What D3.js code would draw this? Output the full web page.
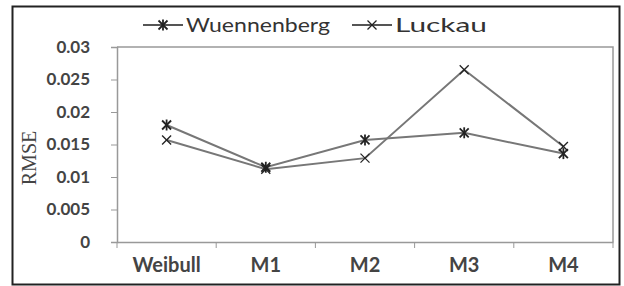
<!DOCTYPE html>
<html><head><meta charset="utf-8">
<script src="https://cdn.jsdelivr.net/npm/d3@7"></script>
<style>body{margin:0;background:#fff}svg{display:block}</style>
</head><body>
<script>
const categories = ["Weibull", "M1", "M2", "M3", "M4"];
const wuennenberg = [0.0180, 0.0115, 0.0157, 0.0168, 0.0136];
const luckau = [0.0157, 0.0112, 0.0129, 0.0265, 0.0147];
const yTicks = [0, 0.005, 0.01, 0.015, 0.02, 0.025, 0.03];
const yTickLabels = ["0", "0.005", "0.01", "0.015", "0.02", "0.025", "0.03"];
const seriesNames = ["Wuennenberg", "Luckau"];

const W = 624, H = 286;
const svg = d3.select("body").append("svg").attr("width", W).attr("height", H);
const font = "Lato, 'Open Sans', sans-serif";

// outer frame
svg.append("rect").attr("x", 12.5).attr("y", 6.5).attr("width", 607).attr("height", 278)
  .attr("fill", "#fff").attr("stroke", "#222").attr("stroke-width", 2);

const x = d3.scaleBand().domain(categories).range([117, 613]);
const y = d3.scaleLinear().domain([0, 0.03]).range([242, 47]);

// plot area border (top and right)
svg.append("path").attr("d", `M117,47H613V242`).attr("fill", "none").attr("stroke", "#999").attr("stroke-width", 1.5);

// y axis
const yAxis = d3.axisLeft(y).tickValues(yTicks).tickFormat((d, i) => yTickLabels[i]).tickSize(6).tickPadding(21);
const gy = svg.append("g").attr("transform", "translate(117,0)").call(yAxis);
gy.select(".domain").attr("stroke", "#999").attr("stroke-width", 1.5);
gy.selectAll(".tick line").attr("stroke", "#999");
gy.selectAll("text").attr("font-family", font).attr("font-size", 17).attr("font-weight", "bold").attr("fill", "#444");

// x axis
const gx = svg.append("g").attr("transform", "translate(0,242)")
  .call(d3.axisBottom(x).tickSize(0).tickPadding(16));
gx.select(".domain").attr("stroke", "#999").attr("stroke-width", 1.5);
gx.selectAll("text").attr("font-family", font).attr("font-size", 20).attr("font-weight", "bold").attr("fill", "#444");
// category boundary ticks
svg.append("g").selectAll("line").data(d3.range(categories.length + 1)).join("line")
  .attr("x1", i => x.range()[0] + i * x.step()).attr("x2", i => x.range()[0] + i * x.step())
  .attr("y1", 242).attr("y2", 248).attr("stroke", "#999");

// y title
svg.append("text").attr("transform", "translate(36,158) rotate(-90)").attr("text-anchor", "middle")
  .attr("font-family", "'Liberation Serif', serif").attr("font-size", 20).attr("fill", "#444").text("RMSE");

const cx = d => x(d) + x.bandwidth() / 2;
const line = d3.line().x((d, i) => cx(categories[i])).y(d => y(d));

function star(g, px, py, s, bold) {
  const sw = bold ? 1.8 : 1.3;
  g.append("line").attr("x1", px - s).attr("y1", py - s).attr("x2", px + s).attr("y2", py + s).attr("stroke", "#222").attr("stroke-width", sw);
  g.append("line").attr("x1", px - s).attr("y1", py + s).attr("x2", px + s).attr("y2", py - s).attr("stroke", "#222").attr("stroke-width", sw);
  if (bold) g.append("line").attr("x1", px).attr("y1", py - s - 1).attr("x2", px).attr("y2", py + s + 1).attr("stroke", "#222").attr("stroke-width", sw);
}

const series = [wuennenberg, luckau];
series.forEach((data, k) => {
  svg.append("path").attr("d", line(data)).attr("fill", "none").attr("stroke", "#777").attr("stroke-width", 2);
});
series.forEach((data, k) => {
  const g = svg.append("g");
  data.forEach((v, i) => star(g, cx(categories[i]), y(v), 4.5, k === 0));
});

// legend
const leg = [{x: 143, name: seriesNames[0], bold: true, len: 144}, {x: 352, name: seriesNames[1], bold: false, len: 92}];
leg.forEach(l => {
  const g = svg.append("g");
  g.append("line").attr("x1", l.x).attr("x2", l.x + 40).attr("y1", 25).attr("y2", 25).attr("stroke", "#555").attr("stroke-width", 2);
  star(g, l.x + 20, 25, 4.5, l.bold);
  g.append("text").attr("x", l.x + 43).attr("y", 32).attr("font-family", font).attr("font-size", 20)
    .attr("textLength", l.len).attr("lengthAdjust", "spacingAndGlyphs").attr("fill", "#333").text(l.name);
});
</script>
</body></html>
